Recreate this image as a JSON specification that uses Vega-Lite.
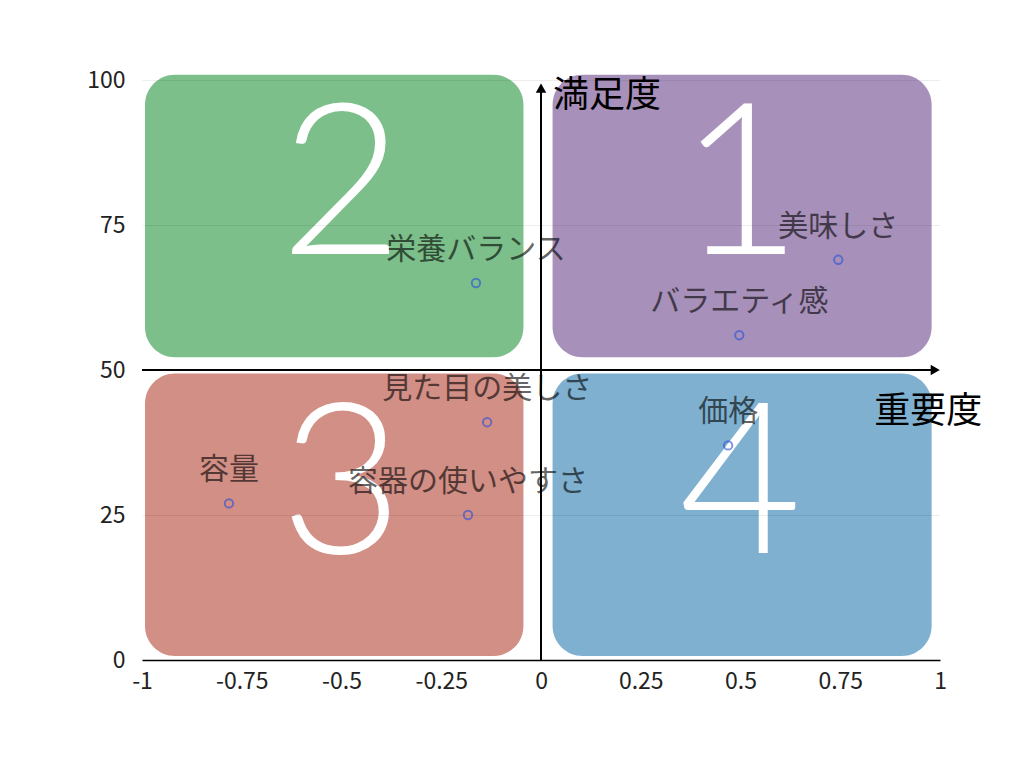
{
  "$schema": "https://vega.github.io/schema/vega-lite/v6.json",
  "width": 798,
  "height": 580,
  "autosize": {"type": "none"},
  "padding": {"left": 142, "top": 80, "right": 84, "bottom": 108},
  "background": "white",
  "config": {"view": {"stroke": null}, "font": "Noto Sans CJK JP"},
  "datasets": {
    "quadrants": [
      {"q": "1", "x1": 0.029, "x2": 0.979, "y1": 52.2, "y2": 100.9, "nx": 0.5, "ny": 70},
      {"q": "2", "x1": -0.9925, "x2": -0.044, "y1": 52.2, "y2": 100.9, "nx": -0.5, "ny": 70},
      {"q": "3", "x1": -0.9925, "x2": -0.044, "y1": 0.7, "y2": 49.4, "nx": -0.5, "ny": 18.5},
      {"q": "4", "x1": 0.029, "x2": 0.979, "y1": 0.7, "y2": 49.4, "nx": 0.5, "ny": 18.5}
    ],
    "items": [
      {"item": "美味しさ", "importance": 0.745, "satisfaction": 69},
      {"item": "バラエティ感", "importance": 0.497, "satisfaction": 56},
      {"item": "栄養バランス", "importance": -0.163, "satisfaction": 65},
      {"item": "見た目の美しさ", "importance": -0.135, "satisfaction": 41},
      {"item": "容器の使いやすさ", "importance": -0.183, "satisfaction": 25},
      {"item": "容量", "importance": -0.782, "satisfaction": 27},
      {"item": "価格", "importance": 0.469, "satisfaction": 37}
    ],
    "titles": [
      {"t": "満足度", "x": 0.03, "y": 97.2},
      {"t": "重要度", "x": 0.835, "y": 42.8}
    ]
  },
  "layer": [
    {
      "data": {"name": "quadrants"},
      "mark": {"type": "rect", "cornerRadius": 30},
      "encoding": {
        "x": {"field": "x1", "type": "quantitative",
          "scale": {"domain": [-1, 1], "nice": false, "zero": false},
          "axis": {"values": [-1, -0.75, -0.5, -0.25, 0, 0.25, 0.5, 0.75, 1], "grid": false, "ticks": false,
            "domainColor": "black", "domainWidth": 1.5, "labelFontSize": 23, "labelColor": "#222",
            "labelPadding": 10, "title": null, "labelFlush": false, "labelExpr": "datum.value + ''", "labelFont": "Noto Sans CJK JP"}},
        "x2": {"field": "x2"},
        "y": {"field": "y1", "type": "quantitative",
          "scale": {"domain": [0, 100], "nice": false},
          "axis": {"values": [0, 25, 50, 75, 100], "grid": true, "gridColor": "#000", "gridOpacity": 0.07,
            "domain": false, "ticks": false, "labelFontSize": 23, "labelColor": "#222", "labelPadding": 17,
            "title": null, "zindex": 1, "labelFont": "Noto Sans CJK JP"}},
        "y2": {"field": "y2"},
        "color": {"field": "q", "type": "nominal",
          "scale": {"domain": ["1", "2", "3", "4"], "range": ["#a791ba", "#7dbf8a", "#d28f86", "#7fb0d0"]},
          "legend": null}
      }
    },
    {
      "data": {"values": [{"x": 0, "y": 0, "y2": 98}]},
      "mark": {"type": "rule", "color": "black", "strokeWidth": 2},
      "encoding": {
        "x": {"field": "x", "type": "quantitative"},
        "y": {"field": "y", "type": "quantitative"},
        "y2": {"field": "y2"}
      }
    },
    {
      "data": {"values": [{"x": -1, "x2": 0.985, "y": 50}]},
      "mark": {"type": "rule", "color": "black", "strokeWidth": 2},
      "encoding": {
        "x": {"field": "x", "type": "quantitative"},
        "x2": {"field": "x2"},
        "y": {"field": "y", "type": "quantitative"}
      }
    },
    {
      "data": {"values": [{"x": 0, "y": 98.6, "s": "triangle-up"}, {"x": 0.988, "y": 50, "s": "triangle-right"}]},
      "mark": {"type": "point", "filled": true, "color": "black", "opacity": 1, "size": 110},
      "encoding": {
        "x": {"field": "x", "type": "quantitative"},
        "y": {"field": "y", "type": "quantitative"},
        "shape": {"field": "s", "type": "nominal", "scale": {"domain": ["triangle-up", "triangle-right"], "range": ["triangle-up", "triangle-right"]}, "legend": null}
      }
    },
    {
      "data": {"name": "quadrants"},
      "mark": {"type": "text", "color": "white", "fontSize": 212, "fontWeight": 300, "font": "Lato", "align": "center", "baseline": "alphabetic"},
      "encoding": {
        "x": {"field": "nx", "type": "quantitative"},
        "y": {"field": "ny", "type": "quantitative"},
        "text": {"field": "q"}
      }
    },
    {
      "data": {"name": "items"},
      "mark": {"type": "point", "shape": "circle", "filled": false, "color": "#2a4fd8", "opacity": 0.6, "strokeWidth": 2, "size": 70},
      "encoding": {
        "x": {"field": "importance", "type": "quantitative"},
        "y": {"field": "satisfaction", "type": "quantitative"}
      }
    },
    {
      "data": {"name": "items"},
      "mark": {"type": "text", "color": "black", "opacity": 0.6, "fontSize": 30, "align": "center", "baseline": "middle", "dy": -33, "font": "Noto Sans CJK JP"},
      "encoding": {
        "x": {"field": "importance", "type": "quantitative"},
        "y": {"field": "satisfaction", "type": "quantitative"},
        "text": {"field": "item"}
      }
    },
    {
      "data": {"name": "titles"},
      "mark": {"type": "text", "color": "black", "fontSize": 36, "align": "left", "baseline": "middle", "font": "Noto Sans CJK JP"},
      "encoding": {
        "x": {"field": "x", "type": "quantitative"},
        "y": {"field": "y", "type": "quantitative"},
        "text": {"field": "t"}
      }
    }
  ]
}
